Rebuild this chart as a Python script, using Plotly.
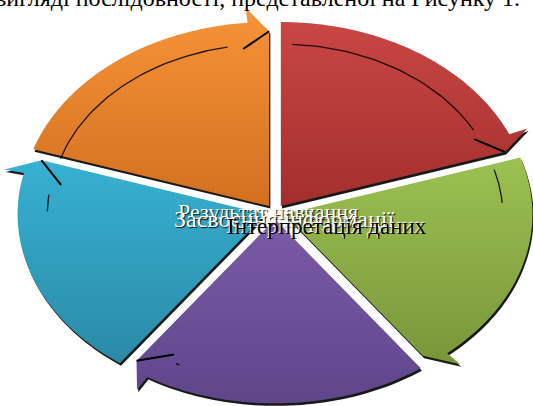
import numpy as np
import plotly.graph_objects as go

# ---- data ----
shares = [1, 1, 1, 1, 1]  # five equal segments, clockwise from top
colors_top = ["#C94643", "#9CC152", "#7A5BA6", "#37B1D2", "#F79338"]
colors_bottom = ["#A22F2D", "#789638", "#5E468A", "#2A8AA6", "#D2701F"]
labels = ["Результат навчання", "Засвоєння інформації", "Інтерпретація даних"]
caption = "вигляді послідовності, представленої на Рисунку 1."

# ---- geometry (pixel-like data space, y up) ----
W, H = 533, 406
cx, cy, rx, ry = 275, 212, 248, 184
pull, head, barb_r, tip_r = 0.04, 5.0, 1.08, 0.95

total = float(sum(shares))
bounds = np.concatenate([[0], np.cumsum(shares)]) / total * 360.0


def to_xy(r, ang, bis):
    r = np.asarray(r, float)
    a = np.radians(np.asarray(ang, float))
    b = np.radians(bis)
    ux = r * np.sin(a) + pull * np.sin(b)
    uy = r * np.cos(a) + pull * np.cos(b)
    return cx + rx * ux, (H - cy) + ry * uy


fig = go.Figure()
outlines = []
for i in range(len(shares)):
    s, e = bounds[i], bounds[i + 1]
    bis = (s + e) / 2
    arc = np.linspace(s, e - head, 50)
    rs = [0, 1] + [1] * len(arc) + [barb_r, tip_r, 0]
    angs = [s, s] + list(arc) + [e - head, e, e]
    x, y = to_xy(rs, angs, bis)
    outlines.append((x, y, s, e, bis))

# shadows
for x, y, s, e, bis in outlines:
    fig.add_trace(go.Scatter(x=x + 1.2, y=y - 2.5, fill="toself", mode="none",
                             fillcolor="rgba(0,0,0,0.9)", hoverinfo="skip"))
# fills
for i, (x, y, s, e, bis) in enumerate(outlines):
    fig.add_trace(go.Scatter(
        x=x, y=y, fill="toself", mode="none", hoverinfo="skip",
        fillgradient=dict(type="vertical",
                          colorscale=[[0, colors_bottom[i]], [1, colors_top[i]]])))

# inner dark lines (3D edge of the arrows): (start offset, end offset) in degrees
inner = {0: (3, 10), 4: (-1, 11), 3: (55, 11), 2: (62, 9), 1: (2, 58)}
tips = {0: 0.86, 4: 0.86, 3: 0.84, 2: 0.84}
for i, (x, y, s, e, bis) in enumerate(outlines):
    a0, a1 = inner[i]
    ang = np.linspace(s + a0, e - a1, 40)
    lx, ly = to_xy(np.full(ang.shape, 0.88), ang, bis)
    fig.add_trace(go.Scatter(x=lx, y=ly, mode="lines", hoverinfo="skip",
                             line=dict(color="rgba(0,0,0,0.85)", width=1.3)))
    if i in tips:
        tx, ty = to_xy([tips[i], tip_r], [e - head - 2, e], bis)
        fig.add_trace(go.Scatter(x=tx, y=ty, mode="lines", hoverinfo="skip",
                                 line=dict(color="black", width=2)))

ann = []
ann.append(dict(x=257, y=H - 13, text=caption, showarrow=False, xanchor="center",
                yanchor="bottom", font=dict(family="Liberation Serif", size=24, color="black")))
pos = [(268, H - 211, 22), (284, H - 219, 24), (327, H - 226, 23)]
for k, (lab, (px, py, fs)) in enumerate(zip(labels, pos)):
    if k < 2:
        f = dict(family="Liberation Serif", size=fs, color="white",
                 shadow="1px 1px 1px rgba(0,0,0,0.9)")
    else:
        f = dict(family="Liberation Serif", size=fs, color="black",
                 shadow="-1px -1px 1px white")
    ann.append(dict(x=px, y=py, text=lab, showarrow=False, xanchor="center",
                    yanchor="middle", font=f))

fig.update_layout(
    width=W, height=H, margin=dict(l=0, r=0, t=0, b=0),
    paper_bgcolor="white", plot_bgcolor="white", showlegend=False,
    xaxis=dict(range=[0, W], visible=False, fixedrange=True),
    yaxis=dict(range=[0, H], visible=False, fixedrange=True),
    annotations=ann,
)
fig.write_html("out.html", config={"displayModeBar": False},
               post_script="document.body.style.margin='0';")
